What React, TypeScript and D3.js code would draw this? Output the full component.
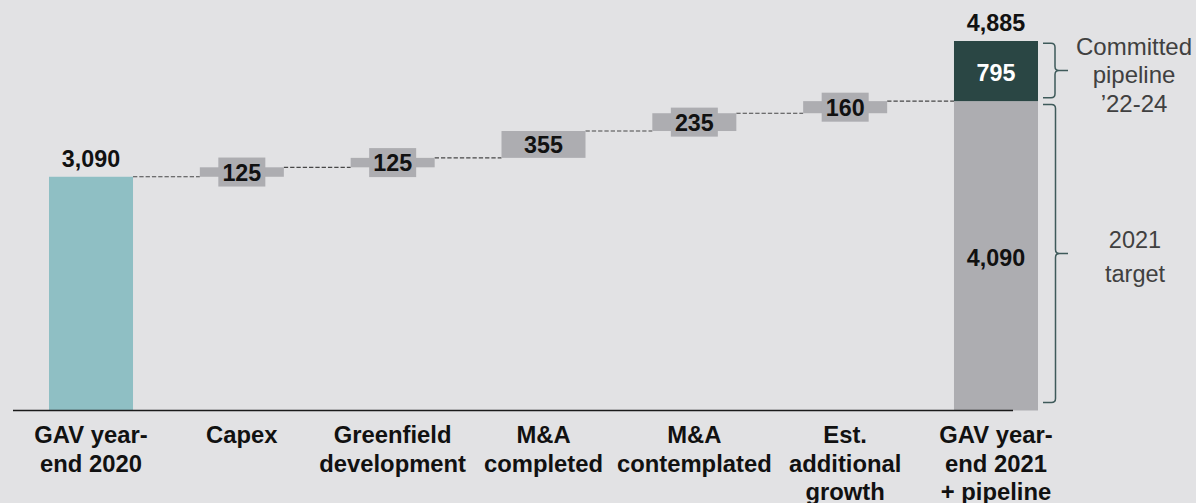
import React from "react";
import * as d3 from "d3";

// Waterfall: GAV year-end 2020 -> GAV year-end 2021 + pipeline
const categories: string[][] = [
  ["GAV year-", "end 2020"],
  ["Capex"],
  ["Greenfield", "development"],
  ["M&A", "completed"],
  ["M&A", "contemplated"],
  ["Est.", "additional", "growth"],
  ["GAV year-", "end 2021", "+ pipeline"],
];
const startValue = 3090;
const increments = [125, 125, 355, 235, 160];
const targetValue = 4090;
const pipelineValue = 795;
const totalValue = 4885;

const W = 1196;
const H = 503;
const FONT = "'Liberation Sans', Arial, Helvetica, sans-serif";

const COLORS = {
  bg: "#e2e2e4",
  start: "#8fbfc4",
  step: "#adadb1",
  pipeline: "#2a4644",
  connector: "#474747",
  axis: "#1a1a1a",
  brace: "#3e5a5a",
  note: "#404040",
};

export default function App() {
  const x = d3
    .scaleBand<number>()
    .domain(d3.range(categories.length))
    .range([49, 1038])
    .paddingInner(0.443)
    .paddingOuter(0);
  const y = d3.scaleLinear().domain([0, totalValue]).range([410.5, 41]);
  const bw = x.bandwidth();

  // floating steps
  let cum = startValue;
  const steps = increments.map((v, i) => {
    const s = { i: i + 1, from: cum, to: cum + v, v };
    cum += v;
    return s;
  });

  // connectors from each bar's right edge to the next bar's left edge
  const levels = [startValue, ...steps.map((s) => s.to)];
  const connectors = levels.map((lv, i) => ({
    x1: (x(i) as number) + bw,
    x2: x(i + 1) as number,
    yv: y(lv),
  }));

  const last = categories.length - 1;
  const xl = x(last) as number;
  const fmt = d3.format(",");
  const boxH = 29;
  const boxW = 47;

  const brace = (x0: number, xv: number, xt: number, yt: number, yb: number) => {
    const ym = (yt + yb) / 2;
    const r = 4;
    return [
      `M${x0},${yt}`,
      `L${xv - r},${yt}`,
      `Q${xv},${yt} ${xv},${yt + r}`,
      `L${xv},${ym - r}`,
      `Q${xv},${ym} ${xv + r},${ym}`,
      `L${xt},${ym}`,
      `M${xv + r},${ym}`,
      `Q${xv},${ym} ${xv},${ym + r}`,
      `L${xv},${yb - r}`,
      `Q${xv},${yb} ${xv - r},${yb}`,
      `L${x0},${yb}`,
    ].join(" ");
  };

  return (
    <svg
      width={W}
      height={H}
      style={{ position: "absolute", left: 0, top: 0, display: "block" }}
      fontFamily={FONT}
    >
      <rect x={0} y={0} width={W} height={H} fill={COLORS.bg} />

      {/* connectors */}
      {connectors.map((c, i) => (
        <line
          key={`c${i}`}
          x1={c.x1}
          x2={c.x2}
          y1={c.yv}
          y2={c.yv}
          stroke={COLORS.connector}
          strokeWidth={1.2}
          strokeDasharray="4.3,2"
        />
      ))}

      {/* start bar */}
      <rect
        x={x(0)}
        y={y(startValue)}
        width={bw}
        height={y(0) - y(startValue)}
        fill={COLORS.start}
      />
      <text
        x={(x(0) as number) + bw / 2}
        y={y(startValue) - 10}
        textAnchor="middle"
        fontWeight="bold"
        fontSize={23.3}
        fill="#111"
      >
        {fmt(startValue)}
      </text>

      {/* floating steps with label boxes */}
      {steps.map((s) => {
        const cx = (x(s.i) as number) + bw / 2;
        const cy = (y(s.from) + y(s.to)) / 2;
        const h = y(s.from) - y(s.to);
        return (
          <g key={`s${s.i}`}>
            <rect x={x(s.i)} y={y(s.to)} width={bw} height={h} fill={COLORS.step} />
            {h < 22 && (
              <rect
                x={cx - boxW / 2}
                y={cy - boxH / 2}
                width={boxW}
                height={boxH}
                fill={COLORS.step}
              />
            )}
            <text
              x={cx}
              y={cy + 8.5}
              textAnchor="middle"
              fontWeight="bold"
              fontSize={23.3}
              fill="#111"
            >
              {fmt(s.v)}
            </text>
          </g>
        );
      })}

      {/* final stacked bar */}
      <rect x={xl} y={y(targetValue)} width={bw} height={y(0) - y(targetValue)} fill={COLORS.step} />
      <rect
        x={xl}
        y={y(totalValue)}
        width={bw}
        height={y(targetValue) - y(totalValue)}
        fill={COLORS.pipeline}
      />
      <text
        x={xl + bw / 2}
        y={(y(0) + y(targetValue)) / 2 + 10}
        textAnchor="middle"
        fontWeight="bold"
        fontSize={23.3}
        fill="#111"
      >
        {fmt(targetValue)}
      </text>
      <text
        x={xl + bw / 2}
        y={(y(targetValue) + y(totalValue)) / 2 + 9.5}
        textAnchor="middle"
        fontWeight="bold"
        fontSize={23.3}
        fill="#fff"
      >
        {fmt(pipelineValue)}
      </text>
      <text
        x={xl + bw / 2}
        y={y(totalValue) - 10}
        textAnchor="middle"
        fontWeight="bold"
        fontSize={23.3}
        fill="#111"
      >
        {fmt(totalValue)}
      </text>

      {/* axis baseline */}
      <line x1={13} x2={1013} y1={y(0)} y2={y(0)} stroke={COLORS.axis} strokeWidth={1.6} />

      {/* category labels */}
      {categories.map((lines, i) => {
        const cx = (x(i) as number) + bw / 2;
        return (
          <text key={`l${i}`} textAnchor="middle" fontWeight="bold" fontSize={23.8} fill="#111">
            {lines.map((ln, j) => (
              <tspan key={j} x={cx} y={443.4 + j * 28.3}>
                {ln}
              </tspan>
            ))}
          </text>
        );
      })}

      {/* braces */}
      <path
        d={brace(1043, 1055, 1068, y(totalValue) + 2.3, y(targetValue) - 3.4)}
        fill="none"
        stroke={COLORS.brace}
        strokeWidth={1.5}
      />
      <path
        d={brace(1043, 1055.5, 1068, y(targetValue) + 3.3, y(0) - 8)}
        fill="none"
        stroke={COLORS.brace}
        strokeWidth={1.5}
      />

      <text textAnchor="middle" fontSize={24} fill={COLORS.note}>
        <tspan x={1134} y={54.5}>Committed</tspan>
        <tspan x={1134} y={83}>pipeline</tspan>
        <tspan x={1134} y={111.5}>’22-24</tspan>
      </text>
      <text textAnchor="middle" fontSize={23.5} fill={COLORS.note}>
        <tspan x={1135} y={248}>2021</tspan>
        <tspan x={1135} y={281.5}>target</tspan>
      </text>
    </svg>
  );
}
